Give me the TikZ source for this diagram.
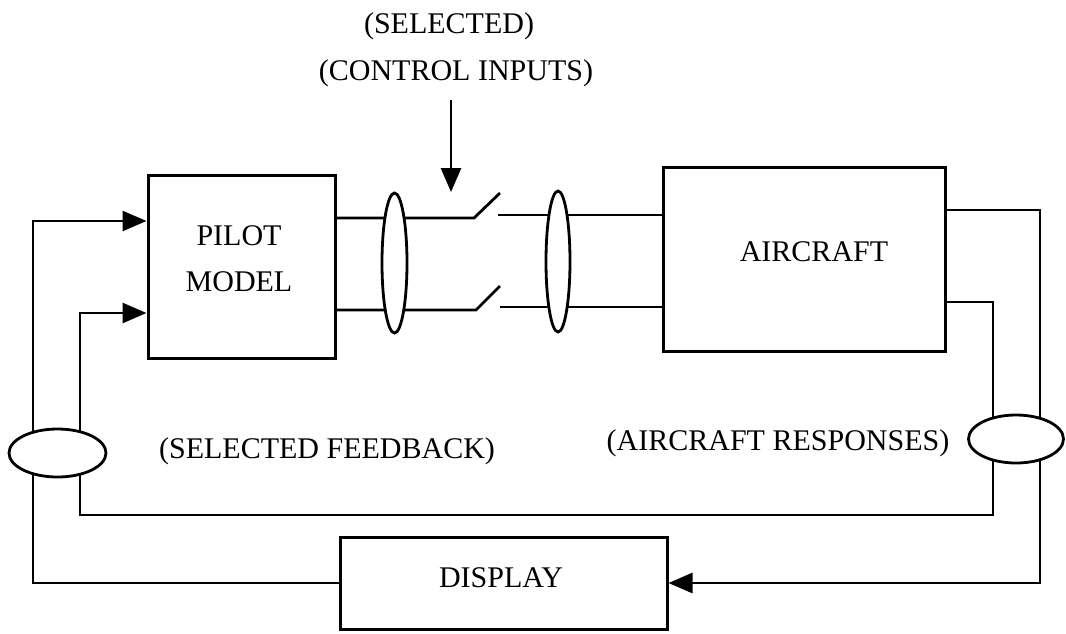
\documentclass[tikz,border=0pt]{standalone}
\usepackage{fontspec}
\setmainfont{Liberation Serif}
\usetikzlibrary{arrows.meta,shapes.geometric}
\begin{document}
\begin{tikzpicture}[x=1pt,y=-1pt,
  every node/.style={font=\fontsize{30}{46}\selectfont},
  blk/.style={draw,line width=3pt,inner sep=0pt},
  wire/.style={line width=2.8pt},
  tip/.style={wire,-{Triangle[length=24pt,width=20pt]}},
  lens/.style={draw,fill=white,ellipse,line width=2.8pt,inner sep=0pt},
  txt/.style={inner sep=0pt,align=center}]
\useasboundingbox (0,0) rectangle (1066,633);

% blocks
\node[blk,minimum width=187pt,minimum height=183pt] (pilot) at (241.5,266.5) {};
\node[blk,minimum width=282pt,minimum height=184pt] (aircraft) at (804,259) {};
\node[blk,minimum width=327pt,minimum height=92pt] (display) at (503.5,583) {};

% texts
\node[txt] (pilottxt) at (239,259) {PILOT\\MODEL};
\node[txt,anchor=base] (actxt) at (814,261) {AIRCRAFT};
\node[txt,anchor=base] (disptxt) at (501,587) {DISPLAY};
\node[txt,anchor=base] (sel) at (449,33) {(SELECTED)};
\node[txt,anchor=base] (ctrl) at (456,80) {(CONTROL INPUTS)};
\node[txt,anchor=base] (fbtxt) at (327,458) {(SELECTED FEEDBACK)};
\node[txt,anchor=base] (resptxt) at (778,450) {(AIRCRAFT RESPONSES)};

% switches
\coordinate (sw1a) at (474,218); \coordinate (sw1b) at (500,193);
\coordinate (sw2a) at (476,310); \coordinate (sw2b) at (500,286);
\coordinate (out1) at (498,215); \coordinate (out2) at (500,307);
\draw[wire] (pilot.east |- sw1a) -- (sw1a) -- (sw1b);
\draw[wire] (pilot.east |- sw2a) -- (sw2a) -- (sw2b);
\draw[wire] (out1) -- (aircraft.west |- out1);
\draw[wire] (out2) -- (aircraft.west |- out2);

% control input arrow
\coordinate (cin) at (451,100); \coordinate (cout) at (451,192);
\draw[tip] (cin) -- (cout);

% aircraft outputs
\coordinate (rA) at (1040,210); \coordinate (rB) at (993,302);
\draw[tip] (aircraft.east |- rA) -- (rA) |- (display.east);
\coordinate (fbR) at (993,515); \coordinate (fbL) at (80,515); \coordinate (inB) at (80,313);
\draw[tip] (aircraft.east |- rB) -- (rB) -- (fbR) -- (fbL) -- (inB) -- (pilot.west |- inB);
\coordinate (dL) at (33,583); \coordinate (inA) at (33,221);
\draw[tip] (display.west) -- (dL) -- (inA) -- (pilot.west |- inA);

% lenses / bundles
\node[lens,minimum width=25pt,minimum height=140pt] (lens1) at (394.5,263) {};
\node[lens,minimum width=24pt,minimum height=141pt] (lens2) at (558,261.5) {};
\node[lens,minimum width=97pt,minimum height=48pt] (lensL) at (57.5,453) {};
\node[lens,minimum width=95pt,minimum height=48pt] (lensR) at (1016,439) {};
\end{tikzpicture}
\end{document}
